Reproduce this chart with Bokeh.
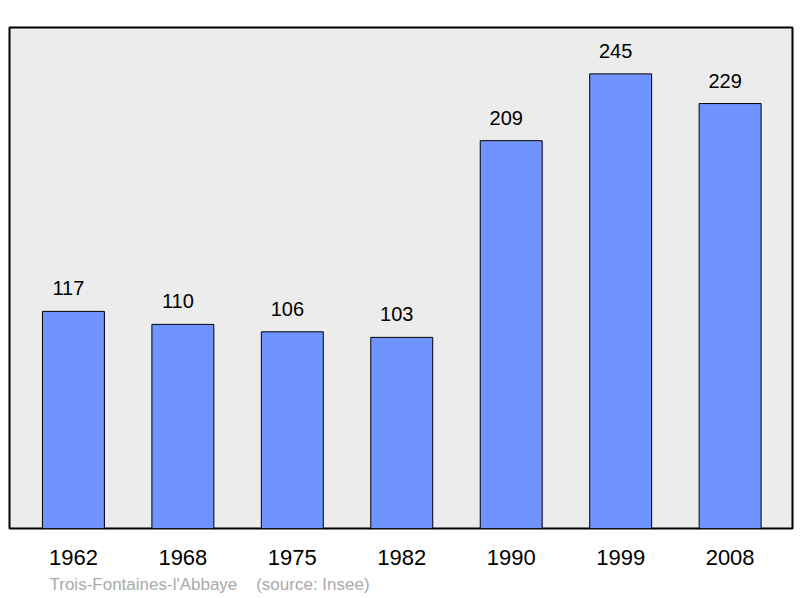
from bokeh.plotting import figure
from bokeh.models import Range1d, FixedTicker, ColumnDataSource, Title
from bokeh.core.properties import value
from bokeh.embed import file_html
from bokeh.resources import INLINE

years = ["1962", "1968", "1975", "1982", "1990", "1999", "2008"]
population = [117, 110, 106, 103, 209, 245, 229]
footer = "Trois-Fontaines-l'Abbaye\u00a0\u00a0\u00a0\u00a0(source: Insee)"

xs = list(range(len(years)))
src = ColumnDataSource(dict(x=xs, top=population, label=[str(v) for v in population]))

FONT = "Liberation Sans"

p = figure(width=800, height=598, output_backend="svg", toolbar_location=None,
           x_range=Range1d(-0.584, 6.57), y_range=Range1d(0, 270),
           min_border_left=9, min_border_right=8, min_border_top=27, min_border_bottom=70)
p.background_fill_color = "#ececec"
p.border_fill_color = "white"
p.outline_line_color = "black"
p.outline_line_width = 2
p.grid.visible = False
p.yaxis.visible = False

p.vbar(x="x", top="top", bottom=0, width=0.566, source=src,
       fill_color="#7094ff", line_color="black", line_width=1)
p.text(x="x", y="top", text="label", source=src, x_offset=-5, y_offset=-16,
       text_align="center", text_baseline="bottom",
       text_font=value(FONT), text_font_size="20px", text_color="black")

ax = p.xaxis[0]
ax.ticker = FixedTicker(ticks=xs)
ax.major_label_overrides = {i: y for i, y in enumerate(years)}
ax.axis_line_color = None
ax.major_tick_line_color = None
ax.minor_tick_line_color = None
ax.major_label_standoff = 15
ax.major_label_text_font = FONT
ax.major_label_text_font_size = "22px"
ax.major_label_text_color = "black"

t = Title(text=footer, align="left", offset=40, text_font=FONT,
          text_font_size="17px", text_font_style="normal", text_color="#aaaaaa")
p.add_layout(t, "below")

open("out.html", "w").write(file_html(p, INLINE))
